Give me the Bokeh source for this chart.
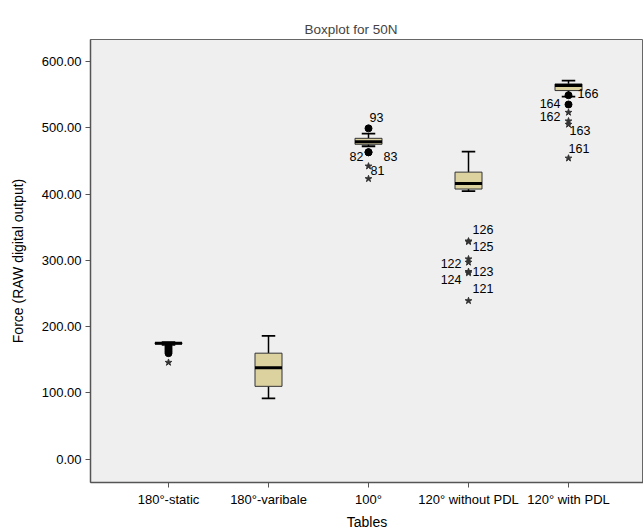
from bokeh.plotting import figure
from bokeh.models import Range1d, FixedTicker, PrintfTickFormatter, ColumnDataSource
from bokeh.core.properties import value
from bokeh.embed import file_html
from bokeh.resources import INLINE

# ---- data ----
categories = ["180°-static", "180°-varibale", "100°", "120° without PDL", "120° with PDL"]
lower_whisker = [172.5, 92, 472, 404.5, 547]
q1 = [174, 110, 475, 407.5, 556]
median = [175, 138, 479, 416, 563.5]
q3 = [175.8, 160, 484, 433, 566]
upper_whisker = [176.5, 186, 491, 464, 571]

# outliers (circles)
out_group = [0, 0, 0, 0, 0, 2, 2, 2, 4, 4]
out_value = [170, 167.5, 165, 162.5, 160, 499, 463, 463, 535, 549]
out_label = ["", "", "", "", "", "93", "82", "83", "164", "166"]

# extremes (stars)
ext_group = [0, 2, 2, 3, 3, 3, 3, 3, 3, 3, 4, 4, 4, 4]
ext_value = [146, 442, 423, 329, 328, 302, 297, 283, 281, 239, 523, 510, 505, 454]
ext_label = ["", "81", "", "126", "125", "122", "", "123", "124", "121", "162", "", "163", "161"]

y_ticks = [0, 100, 200, 300, 400, 500, 600]

# label placement (style, not data): dx, dy, align
label_place = {
    "93": (1, -11, "left"), "82": (-5, 4, "right"), "83": (15, 4, "left"),
    "81": (2, 4, "left"), "164": (-8, -1, "right"), "166": (9, -2, "left"),
    "162": (-8, 4, "right"), "163": (1, 6, "left"), "161": (0, -10, "left"),
    "126": (4, -12, "left"), "125": (4, 5, "left"), "122": (-7, 4, "right"),
    "123": (4, 0, "left"), "124": (-7, 7, "right"), "121": (4, -12, "left"),
}

FONT = "Liberation Sans"
BOX_W = 0.27
CAP_W = 0.135

p = figure(output_backend="svg", toolbar_location=None,
           x_range=Range1d(-0.78, 4.75), y_range=Range1d(-35, 633),
           title="Boxplot for 50N")
p.frame_width = 553
p.frame_height = 443
p.min_border_left = 90
p.min_border_right = 0
p.min_border_top = 39
p.min_border_bottom = 42
p.background_fill_color = "#efefef"
p.border_fill_color = "white"
p.outline_line_color = "#666666"
p.xgrid.visible = False
p.ygrid.visible = False

p.title.text_font = FONT
p.title.text_font_size = "13.5px"
p.title.text_font_style = "normal"
p.title.align = "left"
p.title.offset = 214
p.title.standoff = 6

xs = list(range(len(categories)))
src = ColumnDataSource(dict(x=xs, lw=lower_whisker, q1=q1, med=median, q3=q3, uw=upper_whisker,
                            xl=[x - CAP_W / 2 for x in xs], xr=[x + CAP_W / 2 for x in xs],
                            bl=[x - BOX_W / 2 for x in xs], br=[x + BOX_W / 2 for x in xs]))

# whiskers
p.segment(x0="x", y0="q3", x1="x", y1="uw", source=src, line_color="black", line_width=1.5)
p.segment(x0="x", y0="lw", x1="x", y1="q1", source=src, line_color="black", line_width=1.5)
p.segment(x0="xl", y0="uw", x1="xr", y1="uw", source=src, line_color="black", line_width=1.8)
p.segment(x0="xl", y0="lw", x1="xr", y1="lw", source=src, line_color="black", line_width=1.8)
# boxes
p.vbar(x="x", width=BOX_W, bottom="q1", top="q3", source=src,
       fill_color="#dcd2a0", line_color="#333333", line_width=1)
p.segment(x0="bl", y0="med", x1="br", y1="med", source=src, line_color="black", line_width=3)

# outliers
p.scatter(x=out_group, y=out_value, marker="circle", size=7, fill_color="black", line_color="black")
p.scatter(x=ext_group, y=ext_value, marker="star", size=7, fill_color="#333333", line_color="#333333")

# labels
for grp, vals, labs in ((out_group, out_value, out_label), (ext_group, ext_value, ext_label)):
    for g, v, lab in zip(grp, vals, labs):
        if not lab:
            continue
        dx, dy, al = label_place[lab]
        p.text(x=[g], y=[v], text=[lab], x_offset=dx, y_offset=dy, text_align=al,
               text_baseline="middle", text_font=value(FONT), text_font_size="12.5px",
               text_color="black")

# axes
p.yaxis.ticker = FixedTicker(ticks=y_ticks)
p.yaxis.formatter = PrintfTickFormatter(format="%.2f")
p.yaxis.axis_label = "Force (RAW digital output)"
p.xaxis.ticker = FixedTicker(ticks=xs)
p.xaxis.major_label_overrides = {i: c for i, c in enumerate(categories)}
p.xaxis.axis_label = "Tables"

for ax in (p.xaxis[0], p.yaxis[0]):
    ax.axis_line_color = "#555555"
    ax.axis_line_width = 1.5
    ax.major_tick_line_color = "#555555"
    ax.major_tick_in = 0
    ax.major_tick_out = 5
    ax.minor_tick_line_color = None
    ax.major_label_text_font = FONT
    ax.major_label_text_font_size = "13px"
    ax.major_label_text_color = "black"
    ax.axis_label_text_font = FONT
    ax.axis_label_text_font_size = "14px"
    ax.axis_label_text_font_style = "normal"
    ax.axis_label_text_color = "black"
    ax.major_label_standoff = 4
p.yaxis.axis_label_standoff = 13
p.xaxis.axis_label_standoff = 4

open("out.html", "w").write(file_html(p, INLINE))
